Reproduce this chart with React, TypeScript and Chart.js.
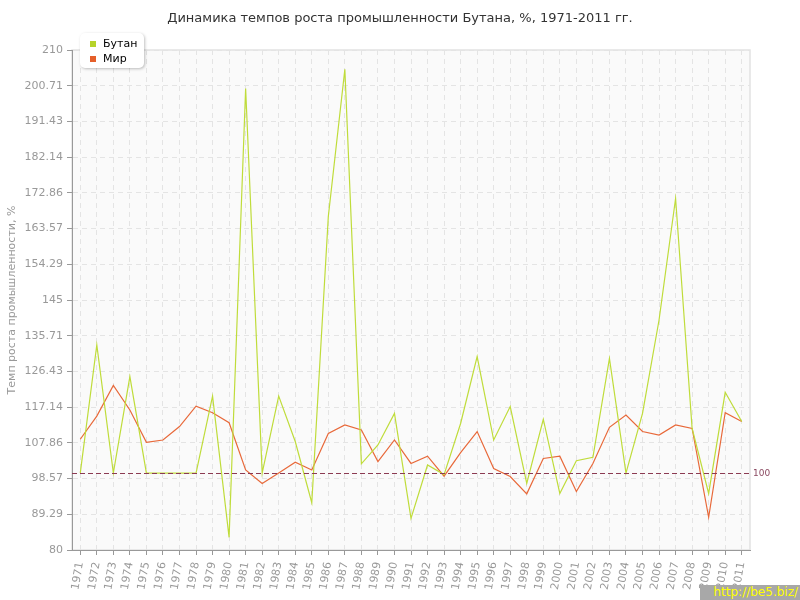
import { useEffect, useRef } from 'react';
import { Chart, registerables } from 'chart.js';

Chart.register(...registerables);

const TITLE = 'Динамика темпов роста промышленности Бутана, %, 1971-2011 гг.';
const Y_TITLE = 'Темп роста промышленности, %';
const SERIES_NAMES = ['Бутан', 'Мир'];

const years = [
  '1971', '1972', '1973', '1974', '1975', '1976', '1977', '1978', '1979', '1980',
  '1981', '1982', '1983', '1984', '1985', '1986', '1987', '1988', '1989', '1990',
  '1991', '1992', '1993', '1994', '1995', '1996', '1997', '1998', '1999', '2000',
  '2001', '2002', '2003', '2004', '2005', '2006', '2007', '2008', '2009', '2010', '2011',
];

const bhutan = [
  100, 133.3, 100, 125.1, 100, 100, 100, 100, 120.0, 83.3,
  200.0, 100, 120.0, 108.2, 92.3, 166.7, 205.0, 102.4, 107.3, 115.5,
  88.2, 102.1, 99.6, 112.9, 130.3, 108.6, 117.3, 97.3, 114.0, 94.7,
  103.2, 104.1, 129.8, 100, 115.5, 139.8, 171.4, 111.6, 94.7, 121.0, 113.4,
];

const world = [
  108.8, 114.8, 122.8, 116.4, 108.0, 108.6, 112.1, 117.4, 115.7, 113.1,
  100.8, 97.3, 100, 102.8, 100.8, 110.3, 112.5, 111.2, 103.0, 108.6,
  102.5, 104.4, 99.2, 105.3, 110.8, 101.2, 99.1, 94.6, 103.8, 104.4,
  95.2, 102.5, 111.9, 115.1, 110.8, 109.9, 112.5, 111.6, 88.5, 115.7, 113.4,
];

const yTicks = [80, 89.29, 98.57, 107.86, 117.14, 126.43, 135.71, 145, 154.29, 163.57, 172.86, 182.14, 191.43, 200.71, 210];
const Y_MIN = 80;
const Y_MAX = 210;
const REF_VALUE = 100;

const GREEN = '#bfdc3a';
const ORANGE = '#e8693a';
const FONT = '"DejaVu Sans", Verdana, sans-serif';

const bgPlugin = {
  id: 'bgPlugin',
  beforeDraw(chart: any) {
    const { ctx, chartArea: a } = chart;
    ctx.save();
    ctx.fillStyle = '#fafafa';
    ctx.fillRect(a.left, a.top, a.right - a.left, a.bottom - a.top);
    ctx.strokeStyle = '#e2e2e2';
    ctx.lineWidth = 1.5;
    ctx.strokeRect(a.left, a.top, a.right - a.left, a.bottom - a.top);
    ctx.restore();
  },
};

const refLinePlugin = {
  id: 'refLinePlugin',
  afterDatasetsDraw(chart: any) {
    const { ctx, chartArea: a } = chart;
    const y = Math.round(chart.scales.y.getPixelForValue(REF_VALUE)) + 0.5;
    ctx.save();
    ctx.strokeStyle = '#8b3a52';
    ctx.lineWidth = 1;
    ctx.setLineDash([5, 3]);
    ctx.beginPath();
    ctx.moveTo(a.left, y);
    ctx.lineTo(a.right + 2, y);
    ctx.stroke();
    ctx.setLineDash([]);
    ctx.fillStyle = '#8b4a62';
    ctx.font = '9px ' + FONT;
    ctx.textAlign = 'left';
    ctx.textBaseline = 'middle';
    ctx.fillText(String(REF_VALUE), a.right + 3, y);
    ctx.restore();
  },
};

export default function App() {
  const ref = useRef<HTMLCanvasElement | null>(null);

  useEffect(() => {
    document.body.style.margin = '0';
    const canvas = ref.current;
    if (!canvas) return;
    const chart = new Chart(canvas, {
      type: 'line',
      data: {
        labels: years,
        datasets: [
          {
            label: SERIES_NAMES[0],
            data: bhutan,
            borderColor: GREEN,
            backgroundColor: GREEN,
            borderWidth: 1.2,
            pointRadius: 0,
            tension: 0,
          },
          {
            label: SERIES_NAMES[1],
            data: world,
            borderColor: ORANGE,
            backgroundColor: ORANGE,
            borderWidth: 1.2,
            pointRadius: 0,
            tension: 0,
          },
        ],
      },
      options: {
        animation: false,
        responsive: false,
        maintainAspectRatio: false,
        devicePixelRatio: 1,
        layout: { padding: { top: 50, right: 50, left: 0, bottom: 0 } },
        plugins: {
          legend: { display: false },
          title: { display: false },
          tooltip: { enabled: false },
        },
        scales: {
          x: {
            type: 'category',
            offset: true,
            afterFit(scale: any) {
              scale.height = 50;
              scale.paddingLeft = 0;
              scale.paddingRight = 0;
            },
            grid: {
              offset: false,
              color: '#e4e4e4',
              tickBorderDash: [],
              tickColor: '#999',
              tickLength: 5,
              drawOnChartArea: true,
            },
            border: { display: true, color: '#999', width: 1, dash: [5, 4] },
            ticks: {
              autoSkip: false,
              minRotation: 80,
              maxRotation: 80,
              padding: 6,
              color: '#999',
              font: { family: FONT, size: 11 },
            },
          },
          y: {
            type: 'linear',
            min: Y_MIN,
            max: Y_MAX,
            afterBuildTicks(scale: any) {
              scale.ticks = yTicks.map((v) => ({ value: v }));
            },
            afterFit(scale: any) {
              scale.width = 72;
            },
            grid: {
              color: '#e4e4e4',
              tickBorderDash: [],
              tickColor: '#999',
              tickLength: 5,
            },
            border: { display: true, color: '#999', width: 1, dash: [5, 4] },
            ticks: {
              padding: 4,
              color: '#999',
              font: { family: FONT, size: 11 },
              callback: (v: any) => String(Math.round(Number(v) * 100) / 100),
            },
            title: {
              display: true,
              text: Y_TITLE,
              color: '#999',
              font: { family: FONT, size: 11 },
              padding: { top: 6, bottom: 0 },
            },
          },
        },
      },
      plugins: [bgPlugin, refLinePlugin],
    } as any);
    return () => chart.destroy();
  }, []);

  return (
    <div style={{ position: 'relative', width: 800, height: 600, background: '#fff', fontFamily: FONT }}>
      <canvas ref={ref} width={800} height={600} style={{ display: 'block', width: 800, height: 600 }} />
      <div
        style={{
          position: 'absolute', top: 10, left: 0, width: 800, textAlign: 'center',
          fontSize: 13, color: '#333', fontFamily: FONT,
        }}
      >
        {TITLE}
      </div>
      <div
        style={{
          position: 'absolute', left: 80, top: 33, width: 64, height: 35,
          background: '#fff', borderRadius: 5, boxShadow: '1px 1px 3px rgba(0,0,0,0.25)',
          fontSize: 11, color: '#000', fontFamily: FONT,
        }}
      >
        <div style={{ position: 'absolute', left: 10, top: 4, display: 'flex', alignItems: 'center' }}>
          <span style={{ display: 'inline-block', width: 6, height: 6, background: '#b6d32b', marginRight: 7 }} />
          {SERIES_NAMES[0]}
        </div>
        <div style={{ position: 'absolute', left: 10, top: 19, display: 'flex', alignItems: 'center' }}>
          <span style={{ display: 'inline-block', width: 6, height: 6, background: '#e55f2a', marginRight: 7 }} />
          {SERIES_NAMES[1]}
        </div>
      </div>
      <div
        style={{
          position: 'absolute', right: 0, bottom: 0, width: 100, height: 15,
          background: '#a8a8a8', color: '#ffff00', fontSize: 12, lineHeight: '15px',
          textAlign: 'right', fontFamily: FONT, paddingRight: 2, boxSizing: 'border-box',
        }}
      >
        http://be5.biz/
      </div>
    </div>
  );
}
